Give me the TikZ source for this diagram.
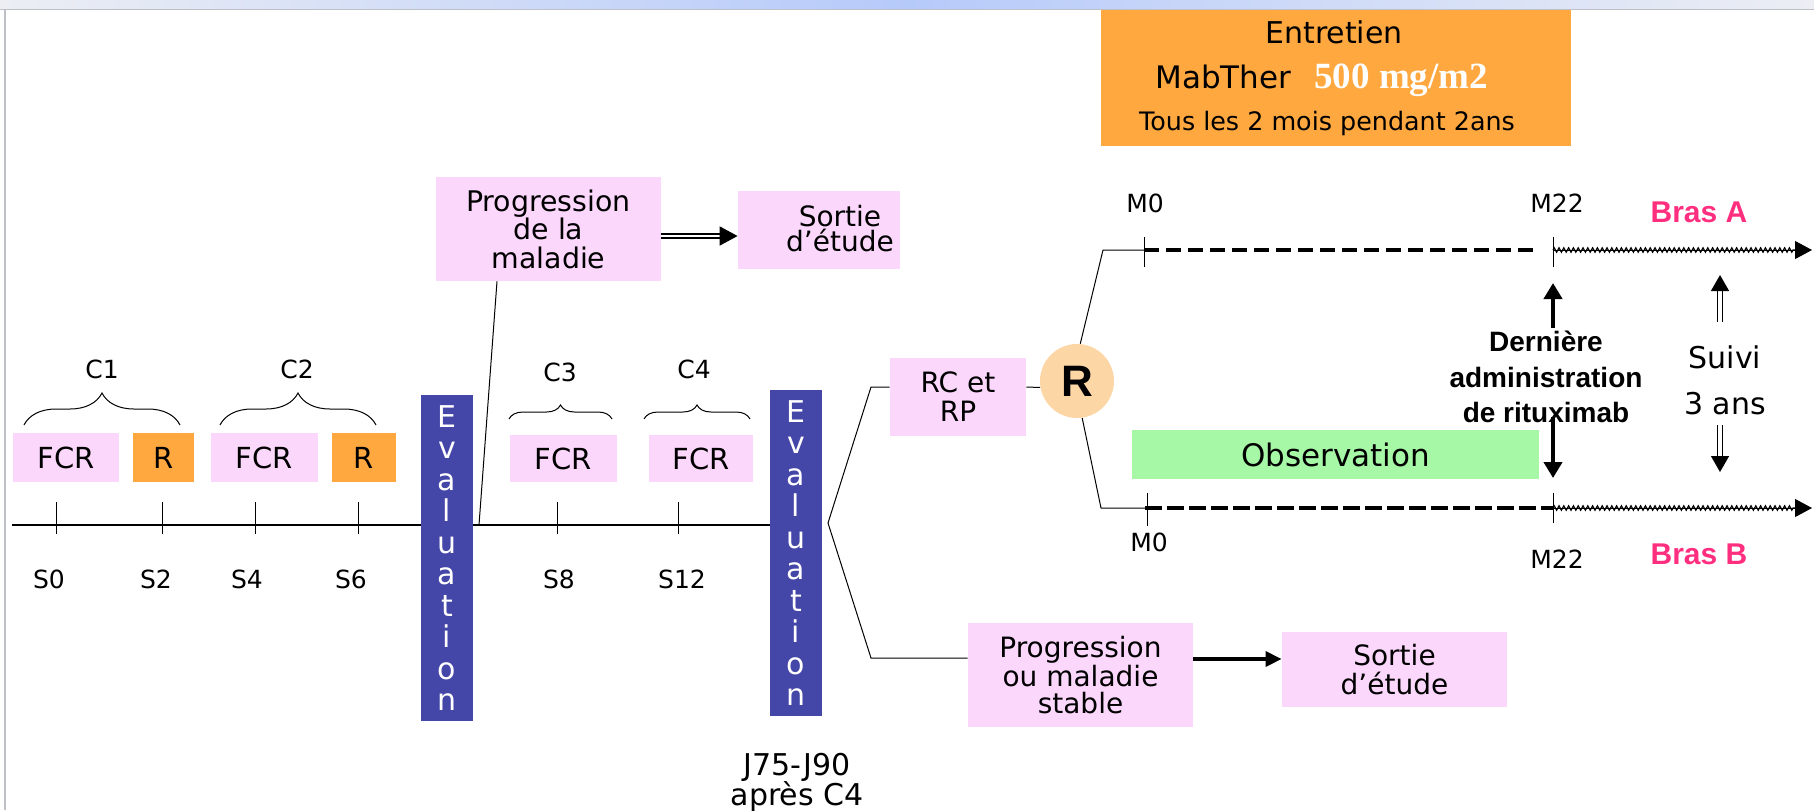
\documentclass[tikz,border=0pt]{standalone}
\usepackage{fontspec}
\setmainfont{DejaVu Sans}
\newfontfamily\arialf{Liberation Sans}
\newfontfamily\timesf{Liberation Serif}
\usetikzlibrary{arrows.meta,decorations.pathmorphing,decorations.pathreplacing,calc}
\definecolor{pinkbox}{RGB}{251,215,252}
\definecolor{orangebox}{RGB}{255,168,64}
\definecolor{evalblue}{RGB}{68,70,168}
\definecolor{peach}{RGB}{253,214,166}
\definecolor{obsgreen}{RGB}{166,248,166}
\definecolor{braspink}{RGB}{255,46,126}
\definecolor{topblue}{RGB}{182,202,250}
\definecolor{topgray}{RGB}{236,238,244}
\definecolor{framegray}{RGB}{190,192,200}
\newcommand{\fsz}[2]{\fontsize{#1}{#2}\selectfont}
\begin{document}
\begin{tikzpicture}[x=0.5pt,y=-0.5pt,
  pinkb/.style={fill=pinkbox, inner sep=0pt, align=center},
  orangeb/.style={fill=orangebox, inner sep=0pt, align=center},
  evalb/.style={fill=evalblue, text=white, inner sep=0pt, align=center,
    minimum width=26pt, minimum height=163pt, font=\fsz{15}{15.75}},
  lbl/.style={inner sep=0pt, font=\fsz{12.5}{14}},
  bras/.style={inner sep=0pt, text=braspink, font=\fsz{15}{17}\arialf\bfseries},
  tickl/.style={line width=0.5pt},
  conn/.style={line width=0.5pt},
  tline/.style={line width=0.75pt},
  brc/.style={decorate, decoration={brace, amplitude=#1}, line width=0.5pt},
  dashA/.style={line width=1.7pt, dash pattern=on 7.5pt off 3.5pt},
  dashB/.style={line width=1.9pt, dash pattern=on 8.5pt off 2.5pt},
  zig/.style={decorate, decoration={zigzag, amplitude=1.1pt, segment length=2.4pt}, line width=0.6pt},
  armarrow/.style={line width=0.5pt, -{Triangle[length=8.5pt,width=9pt]}},
  dblarrow/.style={double, double distance=1pt, line width=0.8pt, -{Triangle[length=9pt,width=9.5pt]}},
  thkarrow/.style={line width=1.7pt, -{Triangle[length=8pt,width=7.5pt]}},
  vthk/.style={line width=2pt, -{Triangle[length=8pt,width=9pt]}},
  vdbl/.style={double, double distance=1.6pt, line width=0.7pt, -{Triangle[length=8pt,width=9pt]}}
]
\useasboundingbox (0,0) rectangle (1814,810);
% window frame
\shade[left color=topgray, right color=topgray, middle color=topblue] (0,0) rectangle (1814,9);
\draw[framegray, line width=0.8pt] (0,9.5) -- (1814,9.5);
\draw[framegray, line width=1pt] (4.5,10) -- (4.5,810);

% ---- first phase boxes
\node[pinkb, minimum width=53.2pt, minimum height=24.5pt, font=\fsz{14.5}{16}] (fcr1) at (66,457.5) {FCR};
\node[orangeb, minimum width=30.5pt, minimum height=24.5pt, font=\fsz{14.5}{16}] (r1) at (163.5,457.5) {R};
\node[pinkb, minimum width=53.5pt, minimum height=24.5pt, font=\fsz{14.5}{16}] (fcr2) at (264.5,457.5) {FCR};
\node[orangeb, minimum width=32pt, minimum height=24.5pt, font=\fsz{14.5}{16}] (r2) at (364,457.5) {R};
\node[pinkb, minimum width=53.5pt, minimum height=23.5pt, font=\fsz{14.5}{16}] (fcr3) at (563.5,458.5) {FCR};
\node[pinkb, minimum width=52pt, minimum height=23.5pt, font=\fsz{14.5}{16}] (fcr4) at (701,458.5) {FCR};

% braces and cycle labels
\draw[brc=16pt] (24,425) -- (180,425);
\draw[brc=16pt] (220,425) -- (376,425);
\draw[brc=7pt] (509,419) -- (612,419);
\draw[brc=7pt] (644,419) -- (750,419);
\node[lbl] (c1) at (102,369) {C1};
\node[lbl] (c2) at (297,369) {C2};
\node[lbl] (c3) at (560,372) {C3};
\node[lbl] (c4) at (694,369) {C4};

% evaluation bars
\node[evalb] (eval1) at (447,558) {E\\v\\a\\l\\u\\a\\t\\i\\o\\n};
\node[evalb] (eval2) at (796,553) {E\\v\\a\\l\\u\\a\\t\\i\\o\\n};

% timeline
\coordinate (t0) at (12,525);
\draw[tline] (t0) -- (eval1.west |- t0);
\draw[tline] (eval1.east |- t0) -- (eval2.west |- t0);
\foreach \x in {56,162.5,255,358,557,678} \draw[tickl] (\x,502) -- (\x,534);
\node[lbl] (s0) at (49,579) {S0};
\node[lbl] (s2) at (156,579) {S2};
\node[lbl] (s4) at (247,579) {S4};
\node[lbl] (s6) at (351,579) {S6};
\node[lbl] (s8) at (559,579) {S8};
\node[lbl] (s12) at (682,579) {S12};

% progression after first evaluation
\node[pinkb, minimum width=112.5pt, minimum height=52pt, font=\fsz{14.2}{14.25}] (prog1) at (548.5,229) {Progression\\de la\\maladie};
\node[pinkb, minimum width=81pt, minimum height=39pt] (sortie1) at (819,230) {};
\node[inner sep=0pt, align=center, font=\fsz{14}{12.5}] (sortie1t) at (840,229) {Sortie\\d’étude};
\coordinate (p1) at (479,525);
\draw[conn] (p1) -- ($(prog1.south)+(-51.5,0)$);
\draw[dblarrow] ($(prog1.east)+(0,7)$) -- ($(sortie1.west)+(0,6)$);

% second evaluation outcomes
\node[pinkb, minimum width=68pt, minimum height=39pt, font=\fsz{14}{14.5}] (rcrp) at (958,397) {RC et\\RP};
\node[circle, fill=peach, minimum size=37pt, inner sep=0pt, font=\fsz{22}{24}\arialf\bfseries] (Rc) at (1077,381) {R};
\node[pinkb, minimum width=112.5pt, minimum height=52pt, font=\fsz{14}{13.25}] (prog2) at (1080.5,675) {Progression\\ou maladie\\stable};
\node[pinkb, minimum width=112.5pt, minimum height=37.5pt, font=\fsz{14}{14.5}] (sortie2) at (1394.5,669.5) {Sortie\\d’étude};
\coordinate (fork) at (828,523);
\coordinate (up1) at (871,387);
\coordinate (dn1) at (871,658);
\draw[conn] (fork) -- (up1) -- ($(rcrp.west)+(0,-10)$);
\draw[conn] (fork) -- (dn1) -- ($(prog2.west)+(0,-17)$);
\draw[conn] ($(rcrp.east)+(0,-10)$) -- (Rc.190);
\draw[thkarrow] ($(prog2.east)+(0,-16)$) -- ($(sortie2.west)+(0,-10.5)$);
\node[inner sep=0pt, align=center, font=\fsz{15}{15}] (j75) at (797,782) {J75-J90\\après C4};

% maintenance box
\node[orangeb, minimum width=235pt, minimum height=68pt] (ent) at (1336,78) {};
\node[inner sep=0pt, font=\fsz{15}{16}] (entt) at (1334,32) {Entretien};
\node[inner sep=0pt, anchor=base west, font=\fsz{15.5}{17}] (mab) at (1155,88) {MabTher};
\node[inner sep=0pt, anchor=base west, text=white, font=\fsz{18.5}{20}\timesf\bfseries] (dose) at (1314,88) {500 mg/m2};
\node[inner sep=0pt, font=\fsz{12.7}{14}] (tous) at (1327,123) {Tous les 2 mois pendant 2ans};

% arm A
\coordinate (aS) at (1103,250);
\coordinate (aM0) at (1144,250);
\coordinate (aD) at (1535,250);
\coordinate (aM22) at (1553,250);
\coordinate (aZ) at (1795,250);
\coordinate (aE) at (1812,250);
\draw[conn] (Rc.85) -- (aS) -- (aM0);
\draw[dashA] (aM0) -- (aD);
\draw[armarrow] (aM22) -- (aE);
\draw[zig] (aM22) -- (aZ);
\draw[tickl] (1144,237) -- (1144,267);
\draw[tickl] (1553,237) -- (1553,267);
\node[lbl] (m0a) at (1145,203) {M0};
\node[lbl] (m22a) at (1557,203) {M22};
\node[bras] (brasA) at (1699,212) {Bras A};

% arm B
\node[fill=obsgreen, minimum width=203.5pt, minimum height=24.5pt, inner sep=0pt, font=\fsz{15.5}{17}] (obs) at (1335.5,454.5) {Observation};
\coordinate (bS) at (1101,508);
\coordinate (bM0) at (1145,508);
\coordinate (bM22) at (1553,508);
\coordinate (bZ) at (1795,508);
\coordinate (bE) at (1812,508);
\draw[conn] (Rc.-82) -- (bS) -- (bM0);
\draw[dashB] (bM0) -- (bM22);
\draw[armarrow] (bM22) -- (bE);
\draw[zig] (bM22) -- (bZ);
\draw[tickl] (1147,493) -- (1147,526);
\draw[tickl] (1553,493) -- (1553,523);
\node[lbl] (m0b) at (1149,542) {M0};
\node[lbl] (m22b) at (1557,559) {M22};
\node[bras] (brasB) at (1699,554) {Bras B};

% last administration and follow-up
\node[inner sep=0pt, align=center, font=\fsz{14}{17.75}\arialf\bfseries] (dern) at (1546,377) {Dernière\\administration\\de rituximab};
\coordinate (dU0) at (1553,328);
\coordinate (dU1) at (1553,283);
\coordinate (dD0) at (1553,417);
\coordinate (dD1) at (1553,478);
\draw[vthk] (dU0) -- (dU1);
\draw[vthk] (dD0) -- (dD1);
\node[inner sep=0pt, align=center, font=\fsz{15}{23}] (suivi) at (1725,380) {Suivi\\3 ans};
\coordinate (sU0) at (1720,322);
\coordinate (sU1) at (1720,275);
\coordinate (sD0) at (1720,425);
\coordinate (sD1) at (1720,472);
\draw[vdbl] (sU0) -- (sU1);
\draw[vdbl] (sD0) -- (sD1);
\end{tikzpicture}
\end{document}
